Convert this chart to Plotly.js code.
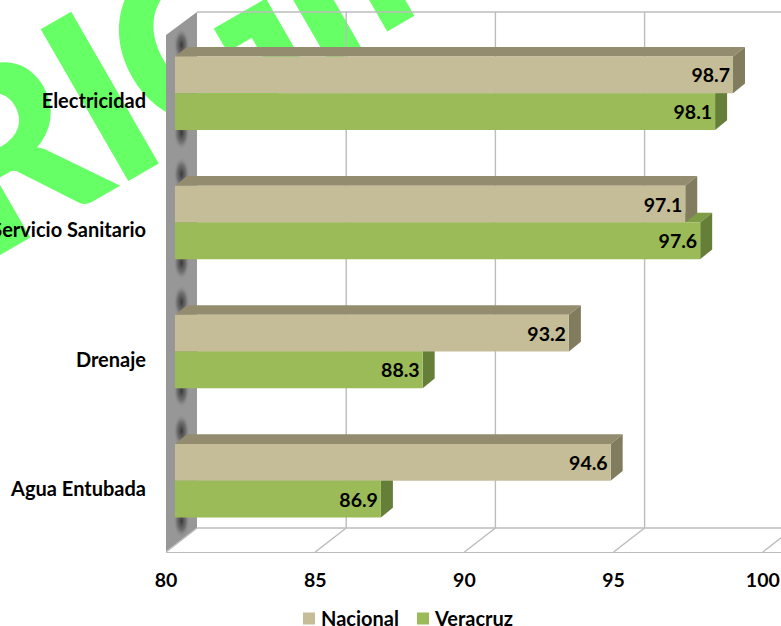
<!DOCTYPE html>
<html>
<head>
<meta charset="utf-8">
<script src="https://cdn.plot.ly/plotly-3.0.1.min.js"></script>
<style>html,body{margin:0;padding:0;background:#fff}
.shapelayer text{letter-spacing:-5px;stroke:#66ff66;stroke-width:3px;stroke-linejoin:miter}</style>
</head>
<body>
<div id="chart" style="width:781px;height:626px"></div>
<script>
const categories = ['Electricidad', 'Servicio Sanitario', 'Drenaje', 'Agua Entubada'];
const nacional = [98.7, 97.1, 93.2, 94.6];
const veracruz = [98.1, 97.6, 88.3, 86.9];
const xTicks = [80, 85, 90, 95, 100];
const seriesNames = ['Nacional', 'Veracruz'];
const watermark = 'ORIGINAL';

const FONT = 'Lato, "Open Sans", sans-serif';
const W = 781, H = 626, L = 166, B = 552;
const PXU = 29.84, PITCH = 129.13;
const BARH = 0.5685 / 2;
const x0px = 175, c0px = 93.3;
const ux = p => p / PXU;
const uy = p => p / PITCH;

const frontDX = ux(-9), backDX = ux(22);
const backTop = (12 - c0px) / PITCH, backFloor = (528 - c0px) / PITCH, frontFloor = (B - c0px) / PITCH;
const sx = ux(12), sy = uy(-9.7);

const yPos = categories.map((_, i) => i);

function poly(pts, fill) {
  return {type: 'path', xref: 'x', yref: 'y', layer: 'between',
    path: 'M' + pts.map(p => p[0] + ',' + p[1]).join('L') + 'Z',
    fillcolor: fill, line: {width: 0}};
}
function seg(x1, y1, x2, y2) {
  return {type: 'line', xref: 'x', yref: 'y', layer: 'between', x0: x1, y0: y1, x1: x2, y1: y2,
    line: {color: '#bcbcbc', width: 1.4}};
}
const shapes = [];
// watermark, behind everything
const wmX = 247, wmY = 1;
shapes.push({type: 'rect', xref: 'paper', yref: 'paper', layer: 'below',
  x0: (wmX - L - 5) / (W - L), x1: (wmX - L + 5) / (W - L),
  y0: 1 - (wmY + 5) / B, y1: 1 - (wmY - 5) / B,
  line: {width: 0}, fillcolor: 'rgba(0,0,0,0)',
  label: {text: '<b>' + watermark + '</b>', textangle: -30, textposition: 'middle center',
    font: {family: 'Lato, sans-serif', size: 238, color: '#66ff66'}}});
// back panel frame, grid and floor
shapes.push(seg(80 + backDX, backTop, 80 + ux(606), backTop));
shapes.push(seg(80 + backDX, backFloor, 80 + ux(606), backFloor));
xTicks.forEach(t => {
  if (t > 80) shapes.push(seg(t + backDX, backTop, t + backDX, backFloor));
  shapes.push(seg(t + frontDX, frontFloor, t + backDX, backFloor));
});
// 3D faces of the bars
function faces(vals, offset, topCol, sideCol) {
  vals.forEach((v, i) => {
    const a = yPos[i] + offset, b = a + BARH;
    shapes.push(poly([[80, a], [80 + sx, a + sy], [v + sx, a + sy], [v, a]], topCol));
    shapes.push(poly([[v, a], [v + sx, a + sy], [v + sx, b + sy], [v, b]], sideCol));
  });
}
faces(veracruz, 0, '#7e9b45', '#667f38');
faces(nacional, -BARH, '#948c6f', '#827c5f');

const blobs = [45, 133, 174, 263, 302, 391, 431, 521];
const wallSvg = '<svg xmlns="http://www.w3.org/2000/svg" width="31" height="540" viewBox="0 0 31 540">' +
  '<defs><radialGradient id="g"><stop offset="0" stop-color="#333" stop-opacity=".95"/><stop offset=".55" stop-color="#555" stop-opacity=".6"/><stop offset="1" stop-color="#959595" stop-opacity="0"/></radialGradient>' +
  '<clipPath id="c"><path d="M0,23L31,0V516L0,540Z"/></clipPath></defs>' +
  '<g clip-path="url(#c)"><rect width="31" height="540" fill="#979797"/>' +
  blobs.map(b => '<ellipse cx="15.5" cy="' + (b - 12) + '" rx="8" ry="17" fill="url(#g)"/>').join('') +
  '</g></svg>';

const barBase = {type: 'bar', orientation: 'h', base: 80,
  textposition: 'inside', insidetextanchor: 'end', constraintext: 'none', textangle: 0,
  insidetextfont: {family: FONT, size: 19.5, color: '#000', weight: 700}, hoverinfo: 'skip'};
const traces = [
  Object.assign({}, barBase, {name: seriesNames[0], y: yPos, x: nacional.map(v => v - 80),
    text: nacional.map(v => v.toFixed(1)), marker: {color: '#c4bd97'}}),
  Object.assign({}, barBase, {name: seriesNames[1], y: yPos, x: veracruz.map(v => v - 80),
    text: veracruz.map(v => v.toFixed(1)), marker: {color: '#9bbb59'}})
];

const layout = {
  width: W, height: H, paper_bgcolor: 'rgba(0,0,0,0)', plot_bgcolor: 'rgba(0,0,0,0)',
  margin: {l: L, r: 0, t: 0, b: H - B, pad: 0, autoexpand: false},
  barmode: 'group', bargap: 0.4315, bargroupgap: 0,
  font: {family: FONT, size: 18, color: '#000'},
  xaxis: {range: [80 + ux(-9), 80 + ux(606)], tickvals: xTicks, ticktext: xTicks.map(String),
    showgrid: false, zeroline: false, showline: true, linecolor: '#bcbcbc', linewidth: 1.4,
    ticks: '', ticklabelshift: -9, ticklabelstandoff: 10,
    tickfont: {family: FONT, size: 19.5, color: '#000', weight: 700}},
  yaxis: {range: [(B - c0px) / PITCH, -c0px / PITCH], tickvals: yPos, ticktext: categories,
    showgrid: false, zeroline: false, showline: false, ticks: '', ticklabelshift: -8, ticklabelstandoff: 19,
    tickfont: {family: FONT, size: 20, color: '#000', weight: 700}},
  legend: {orientation: 'h', x: (281 - L) / (W - L), xref: 'paper', y: -(599 - B) / B, yref: 'paper', xanchor: 'left', yanchor: 'top',
    font: {family: FONT, size: 20, color: '#000', weight: 700}, itemwidth: 30, entrywidth: 69, entrywidthmode: 'pixels', bgcolor: 'rgba(0,0,0,0)'},
  shapes: shapes,
  images: [{source: 'data:image/svg+xml;charset=utf-8,' + encodeURIComponent(wallSvg), xref: 'x domain', yref: 'y domain',
    x: 0, y: 1 - 12 / B, sizex: 31 / (W - L), sizey: 540 / B, sizing: 'stretch', xanchor: 'left', yanchor: 'top', layer: 'below'}]
};
Plotly.newPlot('chart', traces, layout, {displayModeBar: false, staticPlot: true}).then(gd => {
  gd.querySelectorAll('.legendsymbols').forEach(g => g.setAttribute('transform', 'translate(8,0)'));
  gd.querySelectorAll('.legend, .legend .scrollbox').forEach(g => g.removeAttribute('clip-path'));
  gd.querySelectorAll('.legend .scrollbox').forEach(g => { g.style.clipPath = 'none'; });
});
</script>
</body>
</html>
